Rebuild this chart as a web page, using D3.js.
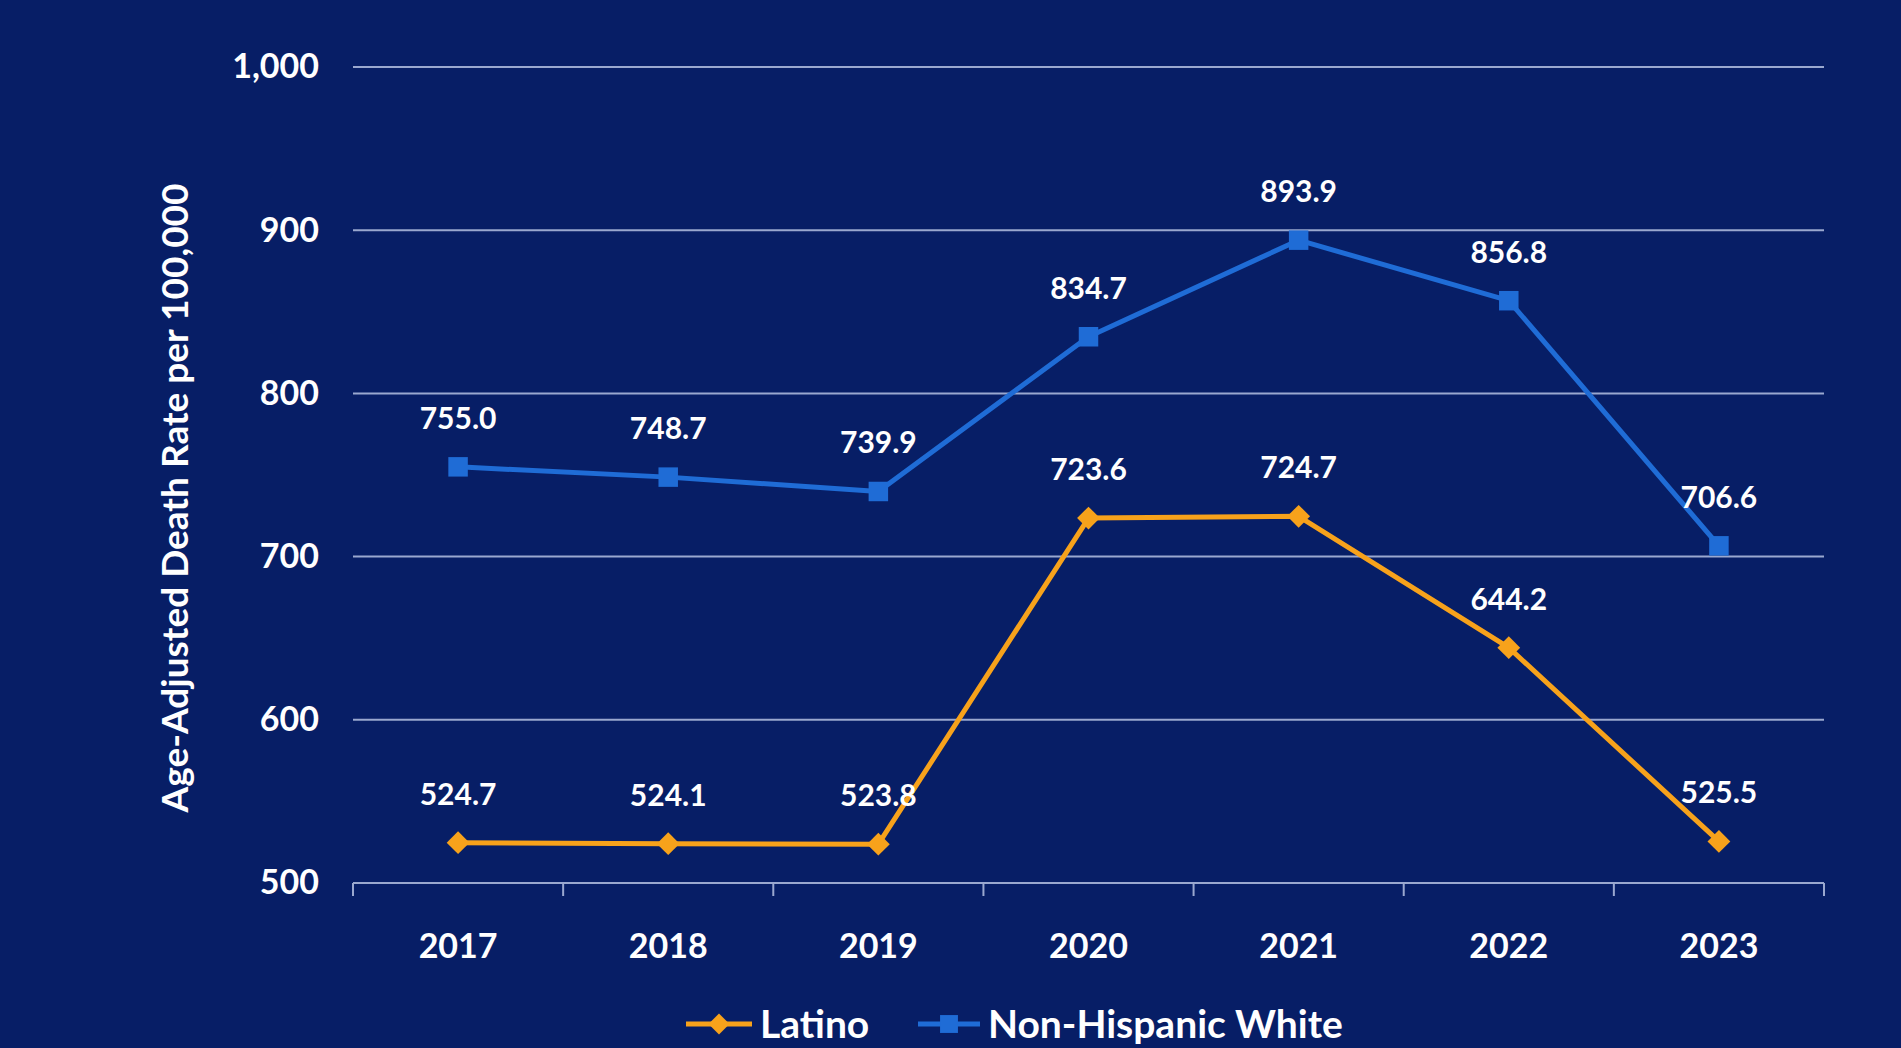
<!DOCTYPE html>
<html><head><meta charset="utf-8">
<script src="https://cdn.jsdelivr.net/npm/d3@7"></script>
<style>
html,body{margin:0;padding:0;background:#071e66;overflow:hidden;}
svg{display:block;}
text{font-family:Lato,"Open Sans",sans-serif;font-weight:700;fill:#fff;}
</style></head><body>
<svg id="c" width="1901" height="1048"></svg>
<script>
const years = ["2017","2018","2019","2020","2021","2022","2023"];
const latino = [524.7, 524.1, 523.8, 723.6, 724.7, 644.2, 525.5];
const nhWhite = [755.0, 748.7, 739.9, 834.7, 893.9, 856.8, 706.6];
const yTicks = [500, 600, 700, 800, 900, 1000];
const seriesNames = ["Latino", "Non-Hispanic White"];

const W = 1901, H = 1048;
const m = {left: 353, right: 1824, top: 67, bottom: 883};
const svg = d3.select("#c");
svg.append("rect").attr("width", W).attr("height", H).attr("fill", "#071e66");

const x = d3.scaleBand().domain(years).range([m.left, m.right]);
const y = d3.scaleLinear().domain([500, 1000]).range([m.bottom, m.top]);

const gridC = "#9aa8cf";
// gridlines
svg.append("g").selectAll("line").data(yTicks.filter(t => t > 500)).join("line")
  .attr("x1", m.left).attr("x2", m.right)
  .attr("y1", d => y(d)).attr("y2", d => y(d))
  .attr("stroke", gridC).attr("stroke-width", 2);

// y axis labels
const yAxis = d3.axisLeft(y).tickValues(yTicks).tickSize(0).tickPadding(34).tickFormat(d3.format(","));
const ya = svg.append("g").attr("transform", `translate(${m.left},0)`).call(yAxis);
ya.select(".domain").remove();
ya.selectAll("text").attr("fill", "#fff").style("font-size", "34px").style("font-family", "Lato").style("font-weight", 700);

// x axis
const xAxis = d3.axisBottom(x).tickSize(0).tickPadding(0);
const xa = svg.append("g").attr("transform", `translate(0,${m.bottom})`).call(xAxis);
xa.select(".domain").remove();
xa.selectAll(".tick line").remove();
xa.selectAll("text").attr("fill", "#fff").attr("dy", 0).attr("y", 75)
  .style("font-size", "34px").style("font-family", "Lato").style("font-weight", 700);
svg.append("line").attr("x1", m.left).attr("x2", m.right).attr("y1", m.bottom).attr("y2", m.bottom)
  .attr("stroke", gridC).attr("stroke-width", 2);
const bounds = years.map(d => x(d)).concat([m.right]);
svg.append("g").selectAll("line").data(bounds).join("line")
  .attr("x1", d => d).attr("x2", d => d).attr("y1", m.bottom).attr("y2", m.bottom + 13)
  .attr("stroke", gridC).attr("stroke-width", 2);

// axis title
svg.append("text").attr("transform", `translate(188,498) rotate(-90)`)
  .attr("text-anchor", "middle").style("font-size", "37px").text("Age-Adjusted Death Rate per 100,000");

const cx = d => x(d) + x.bandwidth() / 2;
const line = d3.line().x(d => cx(d[0])).y(d => y(d[1]));
const blue = "#1f6cd6", orange = "#f7a21b";

function drawSeries(vals, color, shape) {
  const pts = years.map((yr, i) => [yr, vals[i]]);
  svg.append("path").attr("d", line(pts)).attr("fill", "none").attr("stroke", color).attr("stroke-width", 5).attr("stroke-linejoin", "round");
  const sym = d3.symbol().type(shape).size(shape === d3.symbolSquare ? 380 : 280);
  svg.append("g").selectAll("path").data(pts).join("path")
    .attr("transform", d => `translate(${cx(d[0])},${y(d[1])})` + (shape === d3.symbolSquare ? "" : " rotate(45)"))
    .attr("d", shape === d3.symbolSquare ? sym() : d3.symbol().type(d3.symbolSquare).size(260)())
    .attr("fill", color);
  svg.append("g").selectAll("text").data(pts).join("text")
    .attr("x", d => cx(d[0])).attr("y", d => y(d[1]) - 38)
    .attr("text-anchor", "middle").style("font-size", "30px")
    .text(d => d3.format(".1f")(d[1]));
}
drawSeries(nhWhite, blue, d3.symbolSquare);
drawSeries(latino, orange, d3.symbolDiamond);

// legend
const lg = svg.append("g");
const ly = 1024;
lg.append("line").attr("x1", 686).attr("x2", 752).attr("y1", ly).attr("y2", ly).attr("stroke", orange).attr("stroke-width", 5);
lg.append("path").attr("transform", `translate(719,${ly}) rotate(45)`).attr("d", d3.symbol().type(d3.symbolSquare).size(220)()).attr("fill", orange);
lg.append("text").attr("x", 760).attr("y", ly + 14).style("font-size", "39px").text(seriesNames[0]);
lg.append("line").attr("x1", 918).attr("x2", 980).attr("y1", ly).attr("y2", ly).attr("stroke", blue).attr("stroke-width", 5);
lg.append("path").attr("transform", `translate(949,${ly})`).attr("d", d3.symbol().type(d3.symbolSquare).size(320)()).attr("fill", blue);
lg.append("text").attr("x", 988).attr("y", ly + 14).style("font-size", "39px").text(seriesNames[1]);
</script>
</body></html>
